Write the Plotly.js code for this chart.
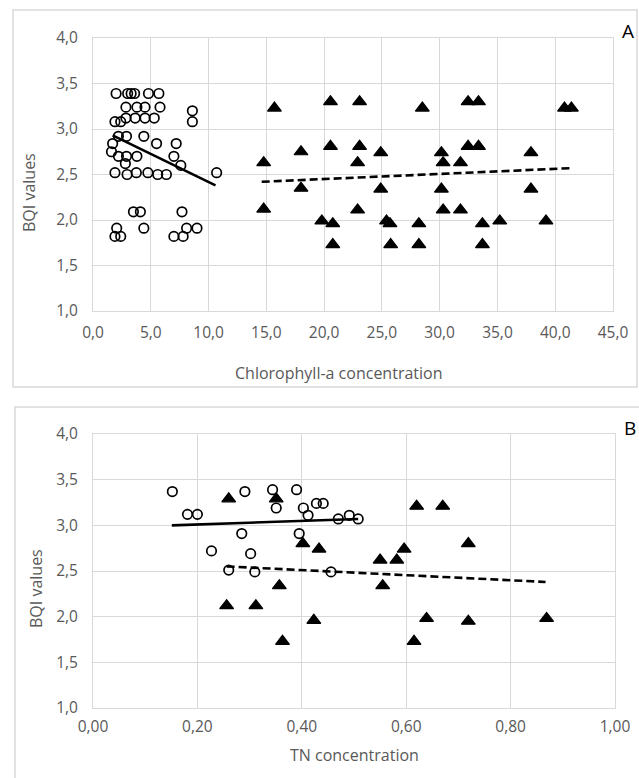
<!DOCTYPE html>
<html>
<head>
<meta charset="utf-8">
<script src="https://cdn.plot.ly/plotly-3.0.1.min.js"></script>
<style>html,body{margin:0;padding:0;background:#fff;}#chart{width:639px;height:778px;}</style>
</head>
<body>
<div id="chart"></div>
<script>
// Panel A: Chlorophyll-a concentration vs BQI
const chlCircleX = [2.0,3.0,3.3,3.6,4.8,5.7, 2.85,3.8,4.5,5.8, 2.85,3.65,4.5,5.3, 1.9,2.4, 8.6,8.6,
  2.2,2.9,4.4, 1.7,5.5,7.2, 1.6,2.2,2.9,3.8,7.0, 2.8,7.6, 1.9,2.95,3.75,4.75,5.6,6.35,10.7,
  3.5,4.1,7.7, 2.05,4.4,8.1,9.0, 1.9,2.4,7.0,7.8];
const chlCircleY = [3.39,3.39,3.39,3.39,3.39,3.39, 3.24,3.24,3.24,3.24, 3.12,3.12,3.12,3.12, 3.08,3.08, 3.20,3.08,
  2.92,2.92,2.92, 2.84,2.84,2.84, 2.75,2.70,2.70,2.70,2.70, 2.62,2.60, 2.52,2.50,2.52,2.52,2.50,2.50,2.52,
  2.09,2.09,2.09, 1.91,1.91,1.91,1.91, 1.82,1.82,1.82,1.82];
const chlTriX = [15.7,20.55,23.07,28.5,32.46,33.36,40.8,41.4,
  20.55,23.07,32.46,33.36,
  18.0,24.9,30.15,37.9,
  14.77,22.9,30.3,31.8,
  18.0,24.9,30.15,37.9,
  14.77,22.9,30.3,31.8,
  19.8,20.75,25.4,25.7,28.2,33.7,35.2,39.2,
  20.75,25.76,28.2,33.7];
const chlTriY = [3.23,3.30,3.30,3.23,3.30,3.30,3.23,3.23,
  2.81,2.81,2.81,2.81,
  2.75,2.74,2.74,2.74,
  2.63,2.63,2.63,2.63,
  2.35,2.34,2.34,2.34,
  2.12,2.11,2.11,2.11,
  1.99,1.96,1.99,1.96,1.96,1.96,1.99,1.99,
  1.73,1.73,1.73,1.73];
const chlTrendSolidX = [1.7, 10.6];
const chlTrendSolidY = [2.93, 2.38];
const chlTrendDashX = [14.6, 41.4];
const chlTrendDashY = [2.42, 2.57];

// Panel B: TN concentration vs BQI
const tnCircleX = [0.152,0.181,0.200,0.291,0.344,0.390,0.351,0.403,0.412,0.428,0.441,0.470,0.491,0.508,0.285,0.395,0.227,0.302,0.260,0.310,0.456];
const tnCircleY = [3.37,3.12,3.12,3.37,3.39,3.39,3.19,3.19,3.11,3.24,3.24,3.07,3.11,3.07,2.91,2.91,2.72,2.69,2.51,2.49,2.49];
const tnTriX = [0.260,0.351,0.402,0.433,0.550,0.582,0.596,0.620,0.670,0.719,0.357,0.555,0.256,0.312,0.423,0.639,0.719,0.869,0.363,0.615];
const tnTriY = [3.29,3.29,2.80,2.74,2.62,2.62,2.74,3.21,3.21,2.80,2.34,2.34,2.12,2.12,1.96,1.98,1.95,1.98,1.73,1.73];
const tnTrendSolidX = [0.151, 0.508];
const tnTrendSolidY = [3.00, 3.07];
const tnTrendDashX = [0.256, 0.867];
const tnTrendDashY = [2.55, 2.38];

const yTicks = [1.0,1.5,2.0,2.5,3.0,3.5,4.0];
const chlTicks = [0,5,10,15,20,25,30,35,40,45];
const tnTicks = [0,0.2,0.4,0.6,0.8,1.0];

const W = 639, H = 778;
const px = v => v / W;
const py = v => 1 - v / H;

const circleMarker = {symbol:'circle-open', size:9.5, color:'#000', line:{width:1.7, color:'#000'}};
const triMarker = {symbol:'triangle-up', size:12, color:'#000', line:{width:1.2, color:'#000'}};

const traces = [
  {x:chlCircleX, y:chlCircleY, type:'scatter', mode:'markers', marker:circleMarker, xaxis:'x', yaxis:'y'},
  {x:chlTriX, y:chlTriY, type:'scatter', mode:'markers', marker:triMarker, xaxis:'x', yaxis:'y'},
  {x:chlTrendSolidX, y:chlTrendSolidY, type:'scatter', mode:'lines', line:{color:'#000', width:2.6}, xaxis:'x', yaxis:'y'},
  {x:chlTrendDashX, y:chlTrendDashY, type:'scatter', mode:'lines', line:{color:'#000', width:2.6, dash:'8px,4px'}, xaxis:'x', yaxis:'y'},
  {x:tnCircleX, y:tnCircleY, type:'scatter', mode:'markers', marker:circleMarker, xaxis:'x2', yaxis:'y2'},
  {x:tnTriX, y:tnTriY, type:'scatter', mode:'markers', marker:triMarker, xaxis:'x2', yaxis:'y2'},
  {x:tnTrendSolidX, y:tnTrendSolidY, type:'scatter', mode:'lines', line:{color:'#000', width:2.6}, xaxis:'x2', yaxis:'y2'},
  {x:tnTrendDashX, y:tnTrendDashY, type:'scatter', mode:'lines', line:{color:'#000', width:2.6, dash:'8px,4px'}, xaxis:'x2', yaxis:'y2'}
];

const FAM = 'Open Sans, sans-serif';
const tickFont = {family:FAM, size:15.5, color:'#595959'};
const titleFont = {family:FAM, size:16, color:'#595959'};
const gridC = '#d9d9d9';
const axBase = {showgrid:true, gridcolor:gridC, gridwidth:1, zeroline:false, showline:true, linecolor:gridC, linewidth:1, mirror:true,
  ticks:'', tickfont:tickFont, fixedrange:true};

const layout = {
  width:W, height:H,
  margin:{l:0,r:0,t:0,b:0},
  paper_bgcolor:'#fff', plot_bgcolor:'#fff',
  showlegend:false,
  separators:',.',
  xaxis:Object.assign({}, axBase, {domain:[px(93), px(613)], range:[0,45], tickvals:chlTicks, tickformat:'.1f', anchor:'y', ticklabelstandoff:7}),
  yaxis:Object.assign({}, axBase, {domain:[py(311), py(38)], range:[1,4], tickvals:yTicks, tickformat:'.1f', anchor:'x', ticklabelstandoff:11}),
  xaxis2:Object.assign({}, axBase, {domain:[px(93), px(615)], range:[0,1], tickvals:tnTicks, tickformat:'.2f', anchor:'y2', ticklabelstandoff:4}),
  yaxis2:Object.assign({}, axBase, {domain:[py(708), py(434)], range:[1,4], tickvals:yTicks, tickformat:'.1f', anchor:'x2', ticklabelstandoff:11}),
  shapes:[
    {type:'rect', xref:'paper', yref:'paper', x0:px(13), x1:px(637), y0:py(387), y1:py(10), line:{color:gridC, width:1.5}, fillcolor:'rgba(0,0,0,0)', layer:'below'},
    {type:'rect', xref:'paper', yref:'paper', x0:px(15), x1:px(645), y0:py(790), y1:py(407), line:{color:gridC, width:1.5}, fillcolor:'rgba(0,0,0,0)', layer:'below'}
  ],
  annotations:[
    {text:'BQI values', xref:'paper', yref:'paper', x:px(29), y:py(193), textangle:-90, showarrow:false, xanchor:'center', yanchor:'middle', font:titleFont},
    {text:'Chlorophyll-a concentration', xref:'paper', yref:'paper', x:px(338), y:py(373), showarrow:false, xanchor:'center', yanchor:'middle', font:titleFont},
    {text:'A', xref:'paper', yref:'paper', x:px(628), y:py(31), showarrow:false, xanchor:'center', yanchor:'middle', font:{family:FAM, size:19, color:'#000'}},
    {text:'BQI values', xref:'paper', yref:'paper', x:px(36), y:py(589), textangle:-90, showarrow:false, xanchor:'center', yanchor:'middle', font:titleFont},
    {text:'TN concentration', xref:'paper', yref:'paper', x:px(354), y:py(755), showarrow:false, xanchor:'center', yanchor:'middle', font:titleFont},
    {text:'B', xref:'paper', yref:'paper', x:px(630), y:py(428), showarrow:false, xanchor:'center', yanchor:'middle', font:{family:FAM, size:19, color:'#000'}}
  ]
};

Plotly.newPlot('chart', traces, layout, {staticPlot:true, displayModeBar:false});
</script>
</body>
</html>
